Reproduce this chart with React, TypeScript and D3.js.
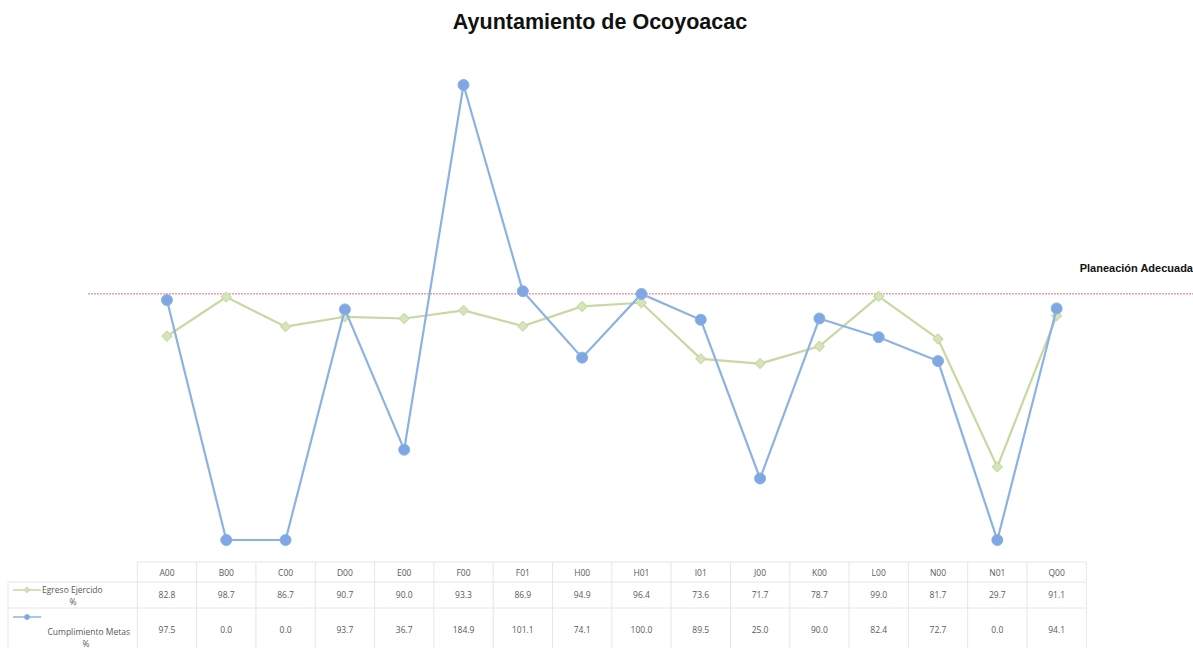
import React from "react";
import * as d3 from "d3";

const categories = ["A00","B00","C00","D00","E00","F00","F01","H00","H01","I01","J00","K00","L00","N00","N01","Q00"];
const egresoValues = [82.8,98.7,86.7,90.7,90.0,93.3,86.9,94.9,96.4,73.6,71.7,78.7,99.0,81.7,29.7,91.1];
const cumplimientoValues = [97.5,0.0,0.0,93.7,36.7,184.9,101.1,74.1,100.0,89.5,25.0,90.0,82.4,72.7,0.0,94.1];
const referenceValue = 100;
const referenceLabel = "Planeación Adecuada";
const title = "Ayuntamiento de Ocoyoacac";
const seriesNames = ["Egreso Ejercido", "Cumplimiento Metas"];

const W = 1193, H = 648;
const green = "#c6d9a0";
const greenMarker = "#d6e4bb";
const blue = "#8cb2e3";
const blueMarker = "#7ea7e3";
const gridColor = "#e6e6e6";
const textColor = "#595959";
const tableFont = "'Open Sans', sans-serif";

export default function App() {
  const x = d3.scaleBand<string>().domain(categories).range([137.3, 1086.3]).padding(0);
  const y = d3.scaleLinear().domain([0, 200]).range([540, 47.8]);
  const cx = (c: string) => (x(c) as number) + x.bandwidth() / 2;

  const line = d3.line<number>().x((_, i) => cx(categories[i])).y(d => y(d));
  const diamond = d3.symbol().type(d3.symbolSquare).size(50)() as string;
  const legDiamond = d3.symbol().type(d3.symbolSquare).size(14)() as string;

  const tableTop = 562, row1 = 582, row2 = 608, tableBottom = 648;
  const colEdges = categories.map(c => x(c) as number).concat([1086.3]);

  return (
    <svg width={W} height={H} style={{ position: "absolute", left: 0, top: 0, background: "#fff" }}>
      <text x={600} y={29} textAnchor="middle" fontFamily="'Liberation Sans', Arial, sans-serif" fontWeight="bold" fontSize={21.5} fill="#111">{title}</text>

      {/* reference line */}
      <line x1={88} x2={W} y1={y(referenceValue)} y2={y(referenceValue)} stroke="#e0707a" strokeWidth={1} strokeDasharray="2,1" />
      <text x={1193} y={272} textAnchor="end" fontFamily="'Liberation Sans', Arial, sans-serif" fontWeight="bold" fontSize={11} fill="#111">{referenceLabel}</text>

      {/* series */}
      <path d={line(egresoValues) as string} fill="none" stroke={green} strokeWidth={2.2} />
      {egresoValues.map((v, i) => (
        <path key={"e" + i} d={diamond} transform={`translate(${cx(categories[i])},${y(v)}) rotate(45)`} fill={greenMarker} stroke={green} strokeWidth={1} />
      ))}
      <path d={line(cumplimientoValues) as string} fill="none" stroke={blue} strokeWidth={2.2} />
      {cumplimientoValues.map((v, i) => (
        <circle key={"c" + i} cx={cx(categories[i])} cy={y(v)} r={5.5} fill={blueMarker} stroke={blue} strokeWidth={1} />
      ))}

      {/* data table */}
      <g stroke={gridColor} strokeWidth={1}>
        {colEdges.map((ex, i) => (
          <line key={"v" + i} x1={ex} x2={ex} y1={tableTop} y2={tableBottom} />
        ))}
        <line x1={137.3} x2={1086.3} y1={tableTop} y2={tableTop} />
        <line x1={8} x2={1086.3} y1={row1} y2={row1} />
        <line x1={8} x2={1086.3} y1={row2} y2={row2} />
        <line x1={8} x2={8} y1={row1} y2={tableBottom} />
      </g>
      {categories.map((c, i) => (
        <g key={"t" + i} fontFamily={tableFont} fontSize={8.5} fill={textColor} textAnchor="middle">
          <text x={cx(c)} y={576}>{c}</text>
          <text x={cx(c)} y={598}>{egresoValues[i].toFixed(1)}</text>
          <text x={cx(c)} y={633}>{cumplimientoValues[i].toFixed(1)}</text>
        </g>
      ))}

      {/* legend keys */}
      <line x1={13} x2={41} y1={590} y2={590} stroke={green} strokeWidth={1.5} />
      <path d={legDiamond} transform="translate(27,590) rotate(45)" fill={greenMarker} stroke={green} />
      <text x={42} y={593} fontFamily={tableFont} fontSize={8.5} fill={textColor}>{seriesNames[0]}</text>
      <text x={73} y={605} fontFamily={tableFont} fontSize={8.5} fill={textColor} textAnchor="middle">%</text>

      <line x1={13} x2={41} y1={617} y2={617} stroke={blue} strokeWidth={1.5} />
      <circle cx={27} cy={617} r={2.5} fill={blueMarker} stroke={blue} />
      <text x={130} y={635} fontFamily={tableFont} fontSize={8.5} fill={textColor} textAnchor="end">{seriesNames[1]}</text>
      <text x={86} y={647} fontFamily={tableFont} fontSize={8.5} fill={textColor} textAnchor="middle">%</text>
    </svg>
  );
}
